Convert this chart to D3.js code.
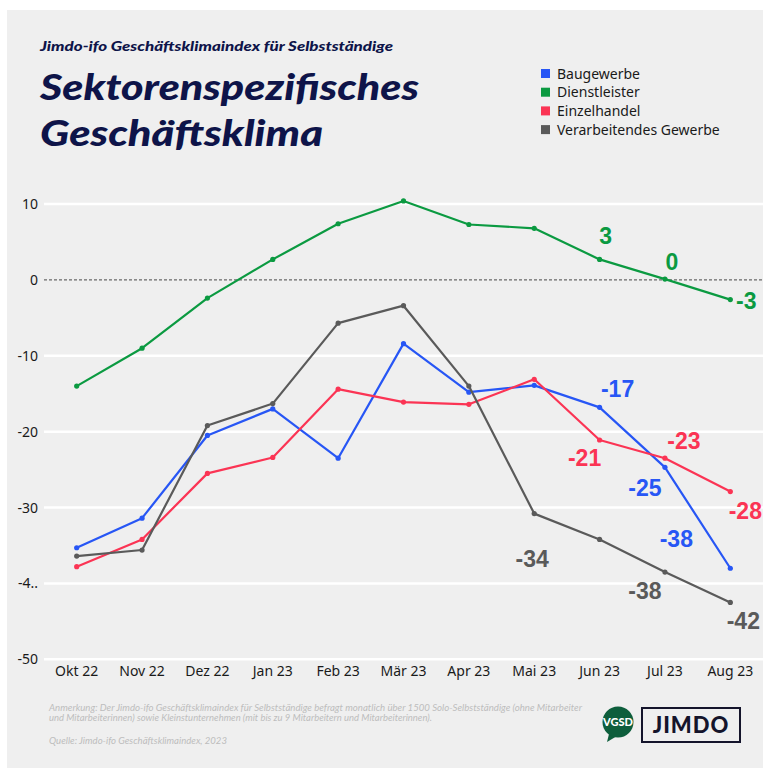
<!DOCTYPE html>
<html>
<head>
<meta charset="utf-8">
<script src="https://cdn.jsdelivr.net/npm/d3@7/dist/d3.min.js"></script>
<style>
  html, body { margin: 0; padding: 0; background: #fff; }
  svg { display: block; }
  text { font-family: Lato, "Noto Sans", sans-serif; }
</style>
</head>
<body>
<svg id="chart" width="763" height="769"></svg>
<script>
// --- data -------------------------------------------------------------
const months = ['Okt 22','Nov 22','Dez 22','Jan 23','Feb 23','Mär 23','Apr 23','Mai 23','Jun 23','Jul 23','Aug 23'];
const seriesNames = ['Baugewerbe','Dienstleister','Einzelhandel','Verarbeitendes Gewerbe'];
const baugewerbe    = [-35.3,-31.4,-20.5,-17.0,-23.5, -8.4,-14.8,-13.9,-16.8,-24.7,-38.0];
const dienstleister = [-14.0, -9.0, -2.4,  2.7,  7.4, 10.4,  7.3,  6.8,  2.7,  0.1, -2.6];
const einzelhandel  = [-37.8,-34.2,-25.5,-23.4,-14.4,-16.1,-16.4,-13.1,-21.1,-23.5,-27.9];
const verarbeitend  = [-36.4,-35.6,-19.2,-16.3, -5.7, -3.4,-14.0,-30.8,-34.2,-38.5,-42.5];
const yTicks = [10, 0, -10, -20, -30, -40, -50];
const yTickLabels = ['10','0','-10','-20','-30','-4..','-50'];
// value labels shown at the end of the lines (month -> text)
const labelsBaugewerbe    = [['Jun 23','-17'],['Jul 23','-25'],['Aug 23','-38']];
const labelsDienstleister = [['Jun 23','3'],['Jul 23','0'],['Aug 23','-3']];
const labelsEinzelhandel  = [['Jun 23','-21'],['Jul 23','-23'],['Aug 23','-28']];
const labelsVerarbeitend  = [['Mai 23','-34'],['Jul 23','-38'],['Aug 23','-42']];

const colors = {
  'Baugewerbe': '#2756f5',
  'Dienstleister': '#0b9a41',
  'Einzelhandel': '#fb3454',
  'Verarbeitendes Gewerbe': '#5a5a5a'
};
const navy = '#0e1449';
const sans = '"Noto Sans", "Open Sans", sans-serif';

const series = [
  {name: 'Baugewerbe', values: baugewerbe, labels: labelsBaugewerbe},
  {name: 'Dienstleister', values: dienstleister, labels: labelsDienstleister},
  {name: 'Einzelhandel', values: einzelhandel, labels: labelsEinzelhandel},
  {name: 'Verarbeitendes Gewerbe', values: verarbeitend, labels: labelsVerarbeitend}
];

// label placement relative to the point (dx, dy of label centre)
const labelOffset = {
  'Baugewerbe|Jun 23': [18,-19], 'Baugewerbe|Jul 23': [-20,20], 'Baugewerbe|Aug 23': [-54,-30],
  'Dienstleister|Jun 23': [6,-24], 'Dienstleister|Jul 23': [7,-17], 'Dienstleister|Aug 23': [16,1],
  'Einzelhandel|Jun 23': [-15,18], 'Einzelhandel|Jul 23': [19,-17], 'Einzelhandel|Aug 23': [15,19],
  'Verarbeitendes Gewerbe|Mai 23': [-2,45], 'Verarbeitendes Gewerbe|Jul 23': [-20,19], 'Verarbeitendes Gewerbe|Aug 23': [13,18]
};

// --- drawing ----------------------------------------------------------
const svg = d3.select('#chart');

svg.append('rect')
  .attr('x', 7).attr('y', 10)
  .attr('width', 763).attr('height', 758)
  .attr('fill', '#efefef');

// titles
svg.append('text')
  .attr('x', 40).attr('y', 51)
  .attr('font-size', 14).attr('font-weight', 900).attr('font-style', 'italic')
  .attr('fill', navy)
  .attr('textLength', 353).attr('lengthAdjust', 'spacingAndGlyphs')
  .text('Jimdo-ifo Geschäftsklimaindex für Selbstständige');
svg.append('text')
  .attr('x', 40).attr('y', 100)
  .attr('font-size', 36).attr('font-weight', 900).attr('font-style', 'italic')
  .attr('fill', navy)
  .attr('textLength', 379).attr('lengthAdjust', 'spacingAndGlyphs')
  .text('Sektorenspezifisches');
svg.append('text')
  .attr('x', 40).attr('y', 146)
  .attr('font-size', 36).attr('font-weight', 900).attr('font-style', 'italic')
  .attr('fill', navy)
  .attr('textLength', 283).attr('lengthAdjust', 'spacingAndGlyphs')
  .text('Geschäftsklima');

// legend
const legend = svg.append('g').attr('transform', 'translate(541,69)');
const legItems = legend.selectAll('g').data(seriesNames).enter().append('g')
  .attr('transform', (d, i) => `translate(0,${i * 18.7})`);
legItems.append('rect')
  .attr('width', 9).attr('height', 9)
  .attr('fill', d => colors[d]);
legItems.append('text')
  .attr('x', 16).attr('y', 9.5)
  .attr('font-size', 14).attr('fill', '#1a1a1a')
  .style('font-family', sans)
  .text(d => d);

// scales
const x = d3.scaleBand().domain(months).range([44, 763]);
const cx = m => x(m) + x.bandwidth() / 2;
const y = d3.scaleLinear().domain([-50, 10]).range([659.3, 204]);

// grid
svg.append('g').selectAll('line')
  .data(yTicks.filter(v => v !== 0)).enter().append('line')
  .attr('x1', 44).attr('x2', 763)
  .attr('y1', d => y(d)).attr('y2', d => y(d))
  .attr('stroke', '#fff').attr('stroke-width', 2.5);
svg.append('line')
  .attr('x1', 44).attr('x2', 763)
  .attr('y1', y(0)).attr('y2', y(0))
  .attr('stroke', '#6a6a6a').attr('stroke-width', 1.3)
  .attr('stroke-dasharray', '3,2');

// axes
const yAxis = svg.append('g')
  .attr('transform', 'translate(44,0)')
  .call(d3.axisLeft(y).tickValues(yTicks).tickSize(0).tickPadding(6)
    .tickFormat((d, i) => yTickLabels[i]));
yAxis.select('.domain').remove();
yAxis.selectAll('text').attr('font-size', 14).attr('fill', '#1a1a1a')
  .style('font-family', sans);

const xAxis = svg.append('g')
  .attr('transform', `translate(0,${y(-50)})`)
  .call(d3.axisBottom(x).tickSize(0).tickPadding(7));
xAxis.select('.domain').remove();
xAxis.selectAll('text').attr('font-size', 14).attr('fill', '#1a1a1a')
  .style('font-family', sans);

// lines
const line = d3.line()
  .x((d, i) => cx(months[i]))
  .y(d => y(d));

const sg = svg.append('g').selectAll('g').data(series).enter().append('g');
sg.append('path')
  .attr('d', d => line(d.values))
  .attr('fill', 'none')
  .attr('stroke', d => colors[d.name])
  .attr('stroke-width', 2.2)
  .attr('stroke-linejoin', 'round');
sg.selectAll('circle')
  .data(d => d.values.map((v, i) => ({v, m: months[i], c: colors[d.name]})))
  .enter().append('circle')
  .attr('cx', d => cx(d.m)).attr('cy', d => y(d.v))
  .attr('r', 2.6).attr('fill', d => d.c);

// value labels
sg.selectAll('text.val')
  .data(d => d.labels.map(([m, t]) => ({
    m, t, c: colors[d.name],
    v: d.values[months.indexOf(m)],
    off: labelOffset[d.name + '|' + m]
  })))
  .enter().append('text')
  .attr('class', 'val')
  .attr('x', d => cx(d.m) + d.off[0])
  .attr('y', d => y(d.v) + d.off[1])
  .attr('dy', '0.36em')
  .attr('text-anchor', 'middle')
  .attr('font-size', 23).attr('font-weight', 700)
  .style('font-family', '"Liberation Sans", Arial, sans-serif')
  .attr('fill', d => d.c)
  .text(d => d.t);

// footnote
const foot = svg.append('g')
  .attr('font-size', 9).attr('font-style', 'italic').attr('fill', '#bdbdbd');
foot.append('text').attr('x', 49).attr('y', 711)
  .attr('textLength', 533).attr('lengthAdjust', 'spacingAndGlyphs')
  .text('Anmerkung: Der Jimdo-ifo Geschäftsklimaindex für Selbstständige befragt monatlich über 1500 Solo-Selbstständige (ohne Mitarbeiter');
foot.append('text').attr('x', 49).attr('y', 721)
  .attr('textLength', 383).attr('lengthAdjust', 'spacingAndGlyphs')
  .text('und Mitarbeiterinnen) sowie Kleinstunternehmen (mit bis zu 9 Mitarbeitern und Mitarbeiterinnen).');
foot.append('text').attr('x', 49).attr('y', 744)
  .attr('textLength', 178).attr('lengthAdjust', 'spacingAndGlyphs')
  .text('Quelle: Jimdo-ifo Geschäftsklimaindex, 2023');

// logos
const vgsd = svg.append('g').attr('transform', 'translate(618,722)');
vgsd.append('path')
  .attr('d', 'M-9,12 L-11,20 L-1,14 Z')
  .attr('fill', '#0d5e3c');
vgsd.append('circle').attr('r', 15.5).attr('fill', '#0d5e3c');
vgsd.append('text')
  .attr('text-anchor', 'middle').attr('dy', '0.36em')
  .attr('font-size', 11.5).attr('font-weight', 900).attr('fill', '#fff')
  .attr('textLength', 30).attr('lengthAdjust', 'spacingAndGlyphs')
  .text('VGSD');

svg.append('rect')
  .attr('x', 642).attr('y', 708)
  .attr('width', 98).attr('height', 34)
  .attr('fill', 'none').attr('stroke', '#14142b').attr('stroke-width', 2);
svg.append('text')
  .attr('x', 691).attr('y', 725).attr('dy', '0.36em')
  .attr('text-anchor', 'middle')
  .attr('font-size', 22).attr('font-weight', 900).attr('fill', '#14142b')
  .attr('letter-spacing', 1)
  .text('JIMDO');
</script>
</body>
</html>
